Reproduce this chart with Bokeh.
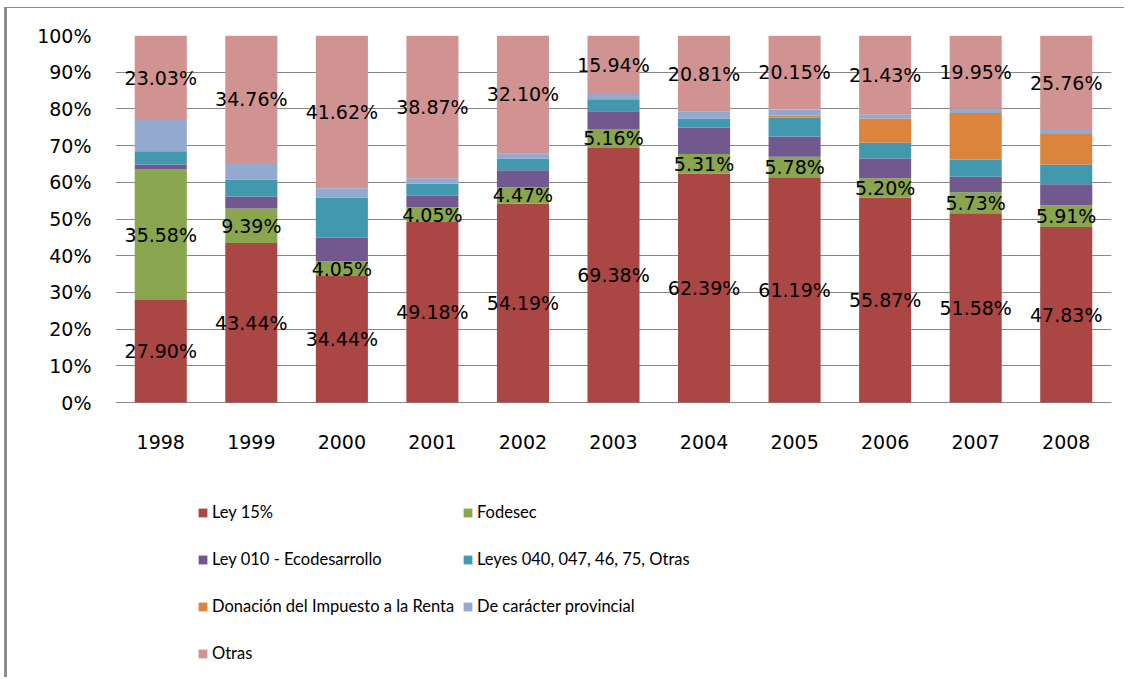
from bokeh.plotting import figure
from bokeh.models import ColumnDataSource, Legend, LegendItem, PrintfTickFormatter, FactorRange, Range1d, FixedTicker
from bokeh.core.properties import value
from bokeh.embed import file_html
from bokeh.resources import INLINE

years = ["1998", "1999", "2000", "2001", "2002", "2003", "2004", "2005", "2006", "2007", "2008"]
ley15 = [27.90, 43.44, 34.44, 49.18, 54.19, 69.38, 62.39, 61.19, 55.87, 51.58, 47.83]
fodesec = [35.58, 9.39, 4.05, 4.05, 4.47, 5.16, 5.31, 5.78, 5.20, 5.73, 5.91]
ley010 = [1.4, 3.3, 6.4, 3.1, 4.6, 4.8, 7.2, 5.5, 5.4, 4.2, 5.7]
leyes040 = [3.6, 4.6, 10.89, 3.3, 3.2, 3.3, 2.5, 5.2, 4.3, 4.7, 5.4]
donacion = [0, 0, 0, 0, 0, 0, 0, 0.5, 6.6, 12.7, 8.3]
provincial = [8.49, 4.51, 2.6, 1.5, 1.44, 1.42, 1.79, 1.68, 1.2, 1.14, 1.1]
otras = [23.03, 34.76, 41.62, 38.87, 32.10, 15.94, 20.81, 20.15, 21.43, 19.95, 25.76]
y_ticks = [0, 10, 20, 30, 40, 50, 60, 70, 80, 90, 100]

series_keys = ["ley15", "fodesec", "ley010", "leyes040", "donacion", "provincial", "otras"]
series_names = ["Ley 15%", "Fodesec", "Ley 010 - Ecodesarrollo", "Leyes 040, 047, 46, 75, Otras",
                "Donación del Impuesto a la Renta", "De carácter provincial", "Otras"]
colors = ["#AA4643", "#89A54E", "#71588F", "#4198AF", "#DB843D", "#93A9CF", "#D19392"]

data = dict(years=years, ley15=ley15, fodesec=fodesec, ley010=ley010, leyes040=leyes040,
            donacion=donacion, provincial=provincial, otras=otras)
source = ColumnDataSource(data)

# layout (pixels)
W, H = 1120, 670
B_LEFT, B_RIGHT, B_TOP, B_BOTTOM = 108, 16, 27, 2
PLOT_PX = 367.0            # pixel height of the 0..100% band
frame_h = H - B_TOP - B_BOTTOM
y_start = 100 - frame_h * 100.0 / PLOT_PX   # room below the bars for the category labels + legend

p = figure(x_range=FactorRange(*years), y_range=Range1d(y_start, 100), width=W, height=H,
           output_backend="svg", toolbar_location=None, tools="", x_axis_location=None)
p.styles = {"border-left": "3px solid #8c8c8c", "border-top": "1px solid #8c8c8c",
            "margin-left": "4px", "margin-top": "7px"}
p.min_border_left = B_LEFT
p.min_border_right = B_RIGHT
p.min_border_top = B_TOP
p.min_border_bottom = B_BOTTOM
p.outline_line_color = None
p.background_fill_color = "white"
p.border_fill_color = "white"

renderers = p.vbar_stack(series_keys, x="years", width=0.575, color=colors, source=source, line_color=None)

# data labels for Ley 15%, Fodesec, Otras
def centers(idx):
    out = []
    for i in range(len(years)):
        below = sum(data[series_keys[k]][i] for k in range(idx))
        out.append(below + data[series_keys[idx]][i] / 2.0)
    return out

lab_x, lab_y, lab_t = [], [], []
for idx in (0, 1, 6):
    cs = centers(idx)
    for i, y in enumerate(years):
        lab_x.append(y)
        lab_y.append(cs[i])
        lab_t.append("%.2f%%" % data[series_keys[idx]][i])
p.text(x=lab_x, y=lab_y, text=lab_t, text_align="center", text_baseline="middle",
       text_font=value("DejaVu Sans"), text_font_size="19px", text_color="black")

# category (year) labels under the 0% line
p.text(x=years, y=[0] * len(years), text=years, y_offset=39, text_align="center",
       text_baseline="middle", text_font=value("DejaVu Sans"), text_font_size="19px",
       text_color="black")

p.xgrid.grid_line_color = None
p.ygrid.grid_line_color = "#868686"
p.ygrid.grid_line_width = 1
p.yaxis.ticker = FixedTicker(ticks=y_ticks)
p.ygrid.ticker = FixedTicker(ticks=y_ticks)
p.yaxis.formatter = PrintfTickFormatter(format="%d%%")
ax = p.yaxis[0]
ax.axis_line_color = None
ax.major_tick_line_color = None
ax.minor_tick_line_color = None
ax.major_label_text_font = "DejaVu Sans"
ax.major_label_text_font_size = "19px"
ax.major_label_text_color = "black"
ax.major_label_standoff = 18

common = dict(label_text_font="Lato", label_text_font_size="16.5px", label_text_color="black",
              glyph_width=11, glyph_height=11, label_standoff=4, label_height=20,
              spacing=27, padding=0, margin=0, border_line_color=None,
              background_fill_alpha=0, orientation="vertical")
left_idx = [0, 2, 4, 6]
right_idx = [1, 3, 5]
leg1 = Legend(items=[LegendItem(label=series_names[i], renderers=[renderers[i]]) for i in left_idx],
              location=(82, 13), **common)
leg2 = Legend(items=[LegendItem(label=series_names[i], renderers=[renderers[i]]) for i in right_idx],
              location=(347, 60), **common)
p.add_layout(leg1, "center")
p.add_layout(leg2, "center")

open("out.html", "w").write(file_html(p, INLINE))
